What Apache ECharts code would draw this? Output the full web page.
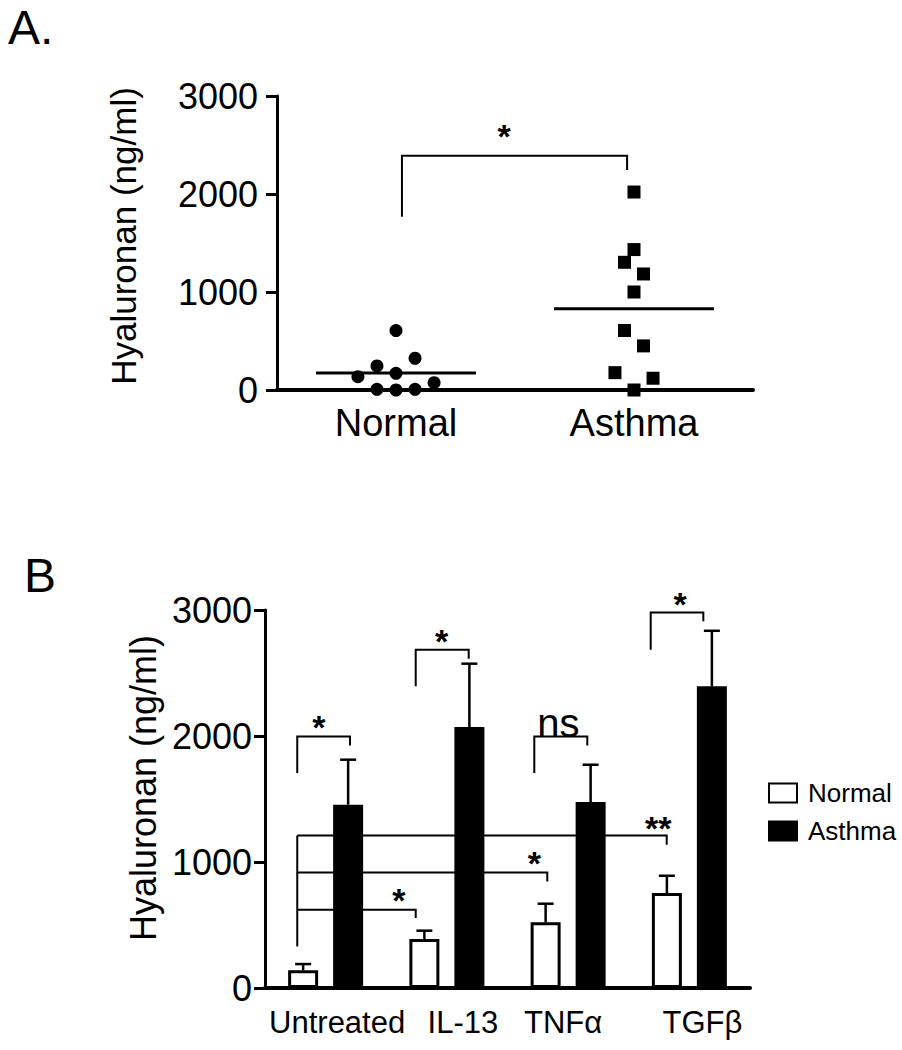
<!DOCTYPE html>
<html><head><meta charset="utf-8">
<script src="https://cdn.jsdelivr.net/npm/echarts/dist/echarts.min.js"></script>
<style>html,body{margin:0;padding:0;background:#fff}#c{width:902px;height:1050px}</style>
</head><body><div id="c"></div>
<script>
// ---------- Panel A data ----------
const groupsA = ['Normal', 'Asthma'];
const normalA = [607, 324, 245, 170, 136, 75, 7, 0, 7];
const normalJitter = [0, 0.08, -0.08, 0, -0.16, 0.16, -0.08, 0, 0.08];
const asthmaA = [2020, 1433, 1303, 1184, 1000, 607, 450, 177, 120, 0];
const asthmaJitter = [0, 0, -0.04, 0.04, 0, -0.04, 0.04, -0.08, 0.08, 0];
const yTicks = [0, 1000, 2000, 3000];
// significance annotation for A (data units)
const bracketsA = [[[0.525, 1768], [0.525, 2391], [1.471, 2391], [1.471, 2245]]];
const marksA = [{ text: '*', x: 0.954, y: 2636 }];

// ---------- Panel B data ----------
const categoriesB = ['Untreated', 'IL-13', 'TNFα', 'TGFβ'];
const normalB = [140, 389, 521, 754];
const normalSemB = [50, 66, 148, 137];
const asthmaB = [1455, 2071, 1476, 2394];
const asthmaSemB = [357, 503, 296, 441];
const bracketsB = [
  [[0.266, 1706], [0.266, 1997], [0.701, 1997], [0.701, 1925]],
  [[1.243, 2394], [1.243, 2685], [1.680, 2685], [1.680, 2613]],
  [[2.221, 1706], [2.221, 1997], [2.658, 1997], [2.658, 1925]],
  [[3.181, 2685], [3.181, 2981], [3.615, 2981], [3.615, 2910]],
  [[0.266, 330], [0.266, 1210]],
  [[0.266, 1210], [3.313, 1210], [3.313, 1137]],
  [[0.266, 917], [2.328, 917], [2.328, 846]],
  [[0.266, 622], [1.243, 622], [1.243, 556]]
];
const marksB = [
  { text: '*', x: 0.445, y: 2106 },
  { text: '*', x: 1.457, y: 2790 },
  { text: 'ns', x: 2.419, y: 2110 },
  { text: '*', x: 3.423, y: 3082 },
  { text: '**', x: 3.244, y: 1310 },
  { text: '*', x: 2.221, y: 1026 },
  { text: '*', x: 1.105, y: 733 }
];

const FONT = "'Liberation Sans', Arial, Helvetica, sans-serif";
const BAR_W = 30, BAR_GAP = 0.5;
const mean = a => a.reduce((s, v) => s + v, 0) / a.length;

function bracketSeries(brackets, xi, yi) {
  return {
    type: 'custom', xAxisIndex: xi, yAxisIndex: yi, silent: true, clip: false, z: 5,
    data: brackets.map(b => b[0]),
    renderItem: (params, api) => {
      const pts = brackets[params.dataIndex].map(p => api.coord(p));
      return { type: 'polyline', shape: { points: pts }, style: { stroke: '#000', lineWidth: 2, fill: null } };
    }
  };
}
function markSeries(marks, xi, yi) {
  return {
    type: 'custom', xAxisIndex: xi, yAxisIndex: yi, silent: true, clip: false, z: 6,
    data: marks.map(m => [m.x, m.y]),
    renderItem: (params, api) => {
      const m = marks[params.dataIndex];
      const p = api.coord([m.x, m.y]);
      const star = m.text.indexOf('*') >= 0;
      const fs = star ? 34 : 40;
      return {
        type: 'text', x: p[0], y: p[1] + (star ? 0.14 * fs : 0.02 * fs),
        style: { text: m.text, fontSize: fs, fontWeight: star ? 'bold' : 'normal', fontFamily: FONT, fill: '#000', align: 'center', verticalAlign: 'middle' }
      };
    }
  };
}
function meanLine(vals, gi) {
  const m = mean(vals);
  return {
    type: 'line', xAxisIndex: 1, yAxisIndex: 0, showSymbol: false, silent: true, z: 4,
    lineStyle: { color: '#000', width: 3 },
    data: [[gi + 0.5 - 0.336, m], [gi + 0.5 + 0.336, m]]
  };
}
function errSeries(vals, sems, side) {
  return {
    type: 'custom', xAxisIndex: 2, yAxisIndex: 1, silent: true, z: 3,
    data: vals.map((v, i) => [i, v, v + sems[i]]),
    renderItem: (params, api) => {
      const off = side * BAR_W * (1 + BAR_GAP) / 2;
      const b = api.coord([api.value(0), api.value(1)]);
      const t = api.coord([api.value(0), api.value(2)]);
      const x = b[0] + off;
      return {
        type: 'group', children: [
          { type: 'line', shape: { x1: x, y1: b[1], x2: x, y2: t[1] }, style: { stroke: '#000', lineWidth: 2.5 } },
          { type: 'line', shape: { x1: x - 8, y1: t[1], x2: x + 8, y2: t[1] }, style: { stroke: '#000', lineWidth: 2.5 } }
        ]
      };
    }
  };
}

const labelShift = [23, 32, -10, 26];
const richB = {};
labelShift.forEach((s, i) => {
  richB['s' + i] = { fontSize: 31, fontFamily: FONT, color: '#000', padding: s >= 0 ? [0, 0, 0, s] : [0, -s, 0, 0] };
});

const yAxisBase = (gi, lblMargin, nameGap, nameSize, namePad) => ({
  gridIndex: gi, type: 'value', min: yTicks[0], max: yTicks[yTicks.length - 1], interval: yTicks[1] - yTicks[0],
  axisLine: { show: true, lineStyle: { color: '#000', width: 3 } },
  axisTick: { show: true, length: 11, lineStyle: { color: '#000', width: 3 } },
  axisLabel: { fontSize: 36, fontFamily: FONT, color: '#000', margin: lblMargin, formatter: v => String(v) },
  splitLine: { show: false },
  name: 'Hyaluronan (ng/ml)', nameLocation: 'middle', nameGap: nameGap,
  nameTextStyle: { fontSize: nameSize, fontFamily: FONT, color: '#000', padding: [0, 0, 0, namePad] }
});

const option = {
  animation: false,
  backgroundColor: '#fff',
  textStyle: { fontFamily: FONT },
  graphic: [
    { type: 'text', left: 8, top: 3, style: { text: 'A.', fontSize: 48, fontFamily: FONT, fill: '#000' } },
    { type: 'text', left: 24, top: 551, style: { text: 'B', fontSize: 48, fontFamily: FONT, fill: '#000' } }
  ],
  grid: [
    { left: 277, top: 96, width: 476, height: 294 },
    { left: 265, top: 610, width: 485, height: 378 }
  ],
  legend: {
    data: ['Normal', 'Asthma'], orient: 'vertical', left: 768, top: 780, padding: 0,
    icon: 'rect', itemWidth: 28, itemHeight: 19, itemGap: 12,
    textStyle: { fontSize: 26, fontFamily: FONT, color: '#000', padding: [0, 0, 0, 6] },
    selectedMode: false
  },
  xAxis: [
    {
      gridIndex: 0, type: 'category', data: groupsA,
      axisLine: { lineStyle: { color: '#000', width: 4 } },
      axisTick: { alignWithLabel: true, length: 10, lineStyle: { color: '#000', width: 3 } },
      axisLabel: { fontSize: 38, fontFamily: FONT, color: '#000', margin: 14, interval: 0 },
      splitLine: { show: false }
    },
    { gridIndex: 0, type: 'value', min: 0, max: 2, show: false },
    {
      gridIndex: 1, type: 'category', data: categoriesB,
      axisLine: { lineStyle: { color: '#000', width: 4 } },
      axisTick: { show: false },
      axisLabel: { fontSize: 31, fontFamily: FONT, color: '#000', margin: 19, interval: 0, hideOverlap: false,
        formatter: (v, i) => '{s' + i + '|' + v + '}', rich: richB },
      splitLine: { show: false }
    },
    { gridIndex: 1, type: 'value', min: 0, max: 4, show: false }
  ],
  yAxis: [
    yAxisBase(0, 19, 136, 35, 14),
    yAxisBase(1, 13, 96, 36, 22)
  ],
  series: [
    {
      name: 'NormalA', type: 'scatter', xAxisIndex: 1, yAxisIndex: 0, symbol: 'circle', symbolSize: 13, z: 6,
      itemStyle: { color: '#000', opacity: 1 }, data: normalA.map((v, i) => [0.5 + normalJitter[i], v])
    },
    {
      name: 'AsthmaA', type: 'scatter', xAxisIndex: 1, yAxisIndex: 0, symbol: 'rect', symbolSize: 13, z: 6,
      itemStyle: { color: '#000', opacity: 1 }, data: asthmaA.map((v, i) => [1.5 + asthmaJitter[i], v])
    },
    meanLine(normalA, 0),
    meanLine(asthmaA, 1),
    bracketSeries(bracketsA, 1, 0),
    markSeries(marksA, 1, 0),
    {
      name: 'Normal', type: 'bar', xAxisIndex: 2, yAxisIndex: 1, barWidth: BAR_W, barGap: (BAR_GAP * 100) + '%',
      itemStyle: { color: '#fff', borderColor: '#000', borderWidth: 3 }, data: normalB
    },
    {
      name: 'Asthma', type: 'bar', xAxisIndex: 2, yAxisIndex: 1, barWidth: BAR_W, barGap: (BAR_GAP * 100) + '%',
      itemStyle: { color: '#000', borderColor: '#000', borderWidth: 3 }, data: asthmaB
    },
    errSeries(normalB, normalSemB, -1),
    errSeries(asthmaB, asthmaSemB, 1),
    bracketSeries(bracketsB, 3, 1),
    markSeries(marksB, 3, 1)
  ]
};
const chart = echarts.init(document.getElementById('c'), null, { renderer: 'svg' });
chart.setOption(option);
</script></body></html>
